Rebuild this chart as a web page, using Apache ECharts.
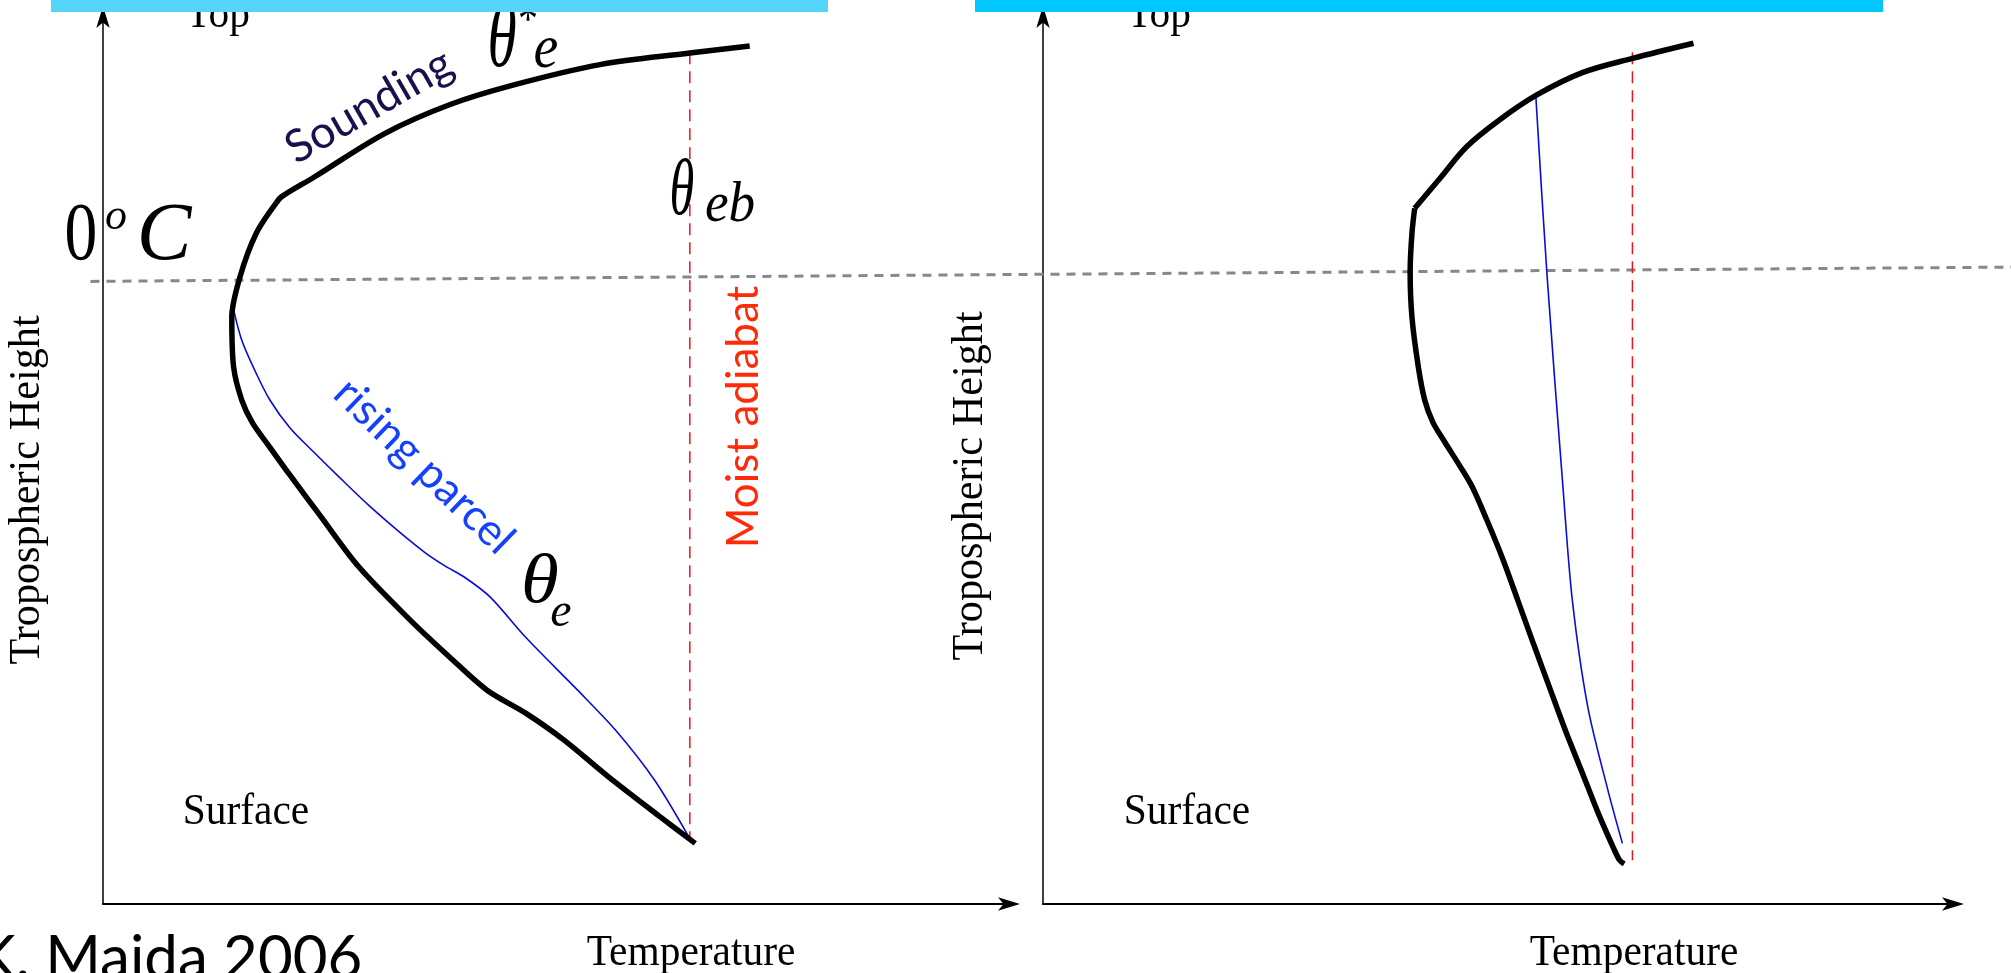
<!DOCTYPE html>
<html>
<head>
<meta charset="utf-8">
<script src="https://cdn.jsdelivr.net/npm/echarts@6/dist/echarts.min.js"></script>
<style>
html,body{margin:0;padding:0;background:#fff;}
#c{width:2011px;height:973px;}
</style>
</head>
<body>
<div id="c"></div>
<script>
// ---- data (temperature, height) in arbitrary schematic units 0..100 ----
const leftSoundingUpper = [[71.3,96.2],[64.7,95.4],[54.8,94.1],[45.2,91.8],[38.2,89.6],[31.1,86.4],[23.3,81.5],[19.7,79.3],[19.1,78.6]];
const leftSoundingLower = [[19.1,78.6],[16.9,75.2],[15.1,70.3],[14.2,65.8],[14.4,60.2],[15.3,56.5],[16.5,53.9],[18.4,51.2],[20.6,48.1],[23.9,43.6],[28.2,37.8],[33.9,31.8],[38.2,27.7],[42.3,24.0],[46.6,21.4],[50.8,18.4],[55.8,14.2],[61.4,9.8],[65.3,6.8]];
const leftParcel = [[14.4,66.6],[15.3,63.2],[16.7,59.9],[18.4,56.5],[20.6,53.4],[23.2,50.7],[26.1,47.8],[29.4,44.6],[32.8,41.6],[35.5,39.4],[37.7,37.9],[39.9,36.6],[42.7,34.4],[46.6,29.9],[52.3,24.0],[56.5,19.5],[60.8,13.9],[64.6,7.5]];
const leftMoistAdiabat = [[64.7,95.5],[64.7,7.0]];

const rightSoundingUpper = [[71.4,96.5],[64.7,94.8],[59.2,93.2],[54.2,90.7],[50.1,87.9],[46.5,84.9],[43.7,81.5],[40.8,78.0]];
const rightSoundingLower = [[40.8,78.0],[40.5,75.2],[40.3,70.9],[40.5,65.8],[41.2,60.2],[41.9,56.5],[42.8,54.0],[44.1,51.8],[45.7,49.2],[47.1,46.8],[48.7,43.1],[50.5,38.6],[52.1,34.1],[53.9,29.0],[55.7,24.0],[57.4,19.3],[59.2,14.7],[60.9,10.3],[62.7,6.1],[63.3,4.9],[63.8,4.5]];
const rightParcel = [[54.1,90.5],[55.3,70.9],[57.1,46.4],[58.1,34.1],[59.8,22.1],[62.0,12.8],[63.6,6.8]];
const rightMoistAdiabat = [[64.7,95.5],[64.7,4.9]];

// freezing level (0 °C), on a full-width overlay grid (x 0..100 across the whole figure)
const freezingLevel = [[4.5,69.8],[100,71.4]];

const axisTitleX = 'Temperature';
const axisTitleY = 'Tropospheric Height';
const topLabel = 'Top';
const bottomLabel = 'Surface';

// ---- chart ----
const chart = echarts.init(document.getElementById('c'), null, {renderer:'canvas', width:2011, height:973});

function mkAxis(i, w, endOffset) {
  return {
    type:'value', gridIndex:i, min:0, max:100,
    axisLine:{show:true, onZero:false, symbol:['none','arrow'], symbolSize:[10,22], symbolOffset:[0,endOffset], lineStyle:{color:'#000', width:w}},
    axisTick:{show:false}, axisLabel:{show:false}, splitLine:{show:false}
  };
}
function hiddenAxis(i) {
  return {type:'value', gridIndex:i, min:0, max:100, show:false};
}
function lineSeries(data, idx, color, width, type, z, extra) {
  return Object.assign({
    type:'line', xAxisIndex:idx, yAxisIndex:idx, data:data,
    showSymbol:false, symbol:'none', silent:true, z:z,
    lineStyle:{color:color, width:width, type:type}
  }, extra || {});
}

const SERIF = "'Liberation Serif', 'Times New Roman', serif";
const SANS = "Lato, 'Open Sans', sans-serif";

function txt(text, x, y, font, fill, extra) {
  return Object.assign({
    type:'text', x:x, y:y, z:50, silent:true,
    style:{text:text, font:font, fill:fill, align:'center', verticalAlign:'middle'}
  }, extra || {});
}

const graphics = [
  // top colored bars
  {type:'rect', z:100, silent:true, shape:{x:51, y:0, width:777, height:12}, style:{fill:'#55d4fa'}},
  {type:'rect', z:100, silent:true, shape:{x:975, y:0, width:908, height:12}, style:{fill:'#00c8ff'}},
  // plain labels
  txt(topLabel, 218, 15, '45px ' + SERIF, '#000', {scaleX:0.92}),
  txt(topLabel, 1159, 15, '45px ' + SERIF, '#000', {scaleX:0.92}),
  txt(bottomLabel, 246, 812, '45px ' + SERIF, '#000', {scaleX:0.92}),
  txt(bottomLabel, 1187, 812, '45px ' + SERIF, '#000', {scaleX:0.92}),
  txt(axisTitleX, 691, 953, '45px ' + SERIF, '#000', {scaleX:0.92}),
  txt(axisTitleX, 1634, 953, '45px ' + SERIF, '#000', {scaleX:0.92}),
  txt(axisTitleY, 27, 490, '44px ' + SERIF, '#000', {scaleX:0.96, rotation:Math.PI/2}),
  txt(axisTitleY, 970, 486, '44px ' + SERIF, '#000', {scaleX:0.96, rotation:Math.PI/2}),
  // math labels
  txt('θ', 502, 42, 'italic 90px ' + SERIF, '#000', {scaleX:0.66}),
  txt('*', 528, 22, '50px ' + SERIF, '#000', {scaleX:0.8}),
  txt('e', 546, 51, 'italic 62px ' + SERIF, '#000', {scaleX:0.9}),
  txt('θ', 682, 193, 'italic 80px ' + SERIF, '#000', {scaleX:0.63}),
  txt('eb', 730, 206, 'italic 56px ' + SERIF, '#000', {scaleX:0.95}),
  txt('θ', 540, 584, 'italic 70px ' + SERIF, '#000', {scaleX:1.1}),
  txt('e', 561, 613, 'italic 48px ' + SERIF, '#000'),
  txt('0', 81, 237, '82px ' + SERIF, '#000', {scaleX:0.8}),
  txt('o', 116, 217, 'italic 44px ' + SERIF, '#000'),
  txt('C', 164, 237, 'italic 82px ' + SERIF, '#000'),
  // colored annotations
  txt('Sounding', 369, 106, '45px ' + SANS, '#1c0f4d', {rotation:Math.PI/6}),
  txt('rising parcel', 424, 466, '44px ' + SANS, '#1440ff', {rotation:-44*Math.PI/180}),
  txt('Moist adiabat', 744, 417, '44px ' + SANS, '#ff2a0a', {rotation:Math.PI/2}),
  // credit
  {type:'text', x:-24, y:959, z:50, silent:true, style:{text:'K. Majda 2006', font:'60px ' + SANS, fill:'#000', align:'left', verticalAlign:'middle'}}
];

const option = {
  animation:false,
  backgroundColor:'#ffffff',
  grid:[
    {left:103, right:1001, top:12, bottom:69},
    {left:1043, right:57, top:12, bottom:69},
    {left:0, right:0, top:12, bottom:69}
  ],
  xAxis:[mkAxis(0,2,10), mkAxis(1,2,10), hiddenAxis(2)],
  yAxis:[mkAxis(0,1.5,6), mkAxis(1,1.5,6), hiddenAxis(2)],
  series:[
    lineSeries(freezingLevel, 2, '#888888', 3, [9,7], 1),
    lineSeries(leftMoistAdiabat, 0, '#e8141e', 1.5, [12,7], 2),
    lineSeries(rightMoistAdiabat, 1, '#e8141e', 1.5, [12,7], 2),
    lineSeries(leftParcel, 0, '#0b0bd6', 1.6, 'solid', 3, {smooth:0.3}),
    lineSeries(rightParcel, 1, '#0b0bd6', 1.6, 'solid', 3, {smooth:0.3}),
    lineSeries(leftSoundingUpper, 0, '#000', 5.5, 'solid', 4, {smooth:0.35}),
    lineSeries(leftSoundingLower, 0, '#000', 5.5, 'solid', 4, {smooth:0.3}),
    lineSeries(rightSoundingUpper, 1, '#000', 5.5, 'solid', 4, {smooth:0.35}),
    lineSeries(rightSoundingLower, 1, '#000', 5.5, 'solid', 4, {smooth:0.3})
  ],
  graphic:graphics
};
chart.setOption(option);
</script>
</body>
</html>
